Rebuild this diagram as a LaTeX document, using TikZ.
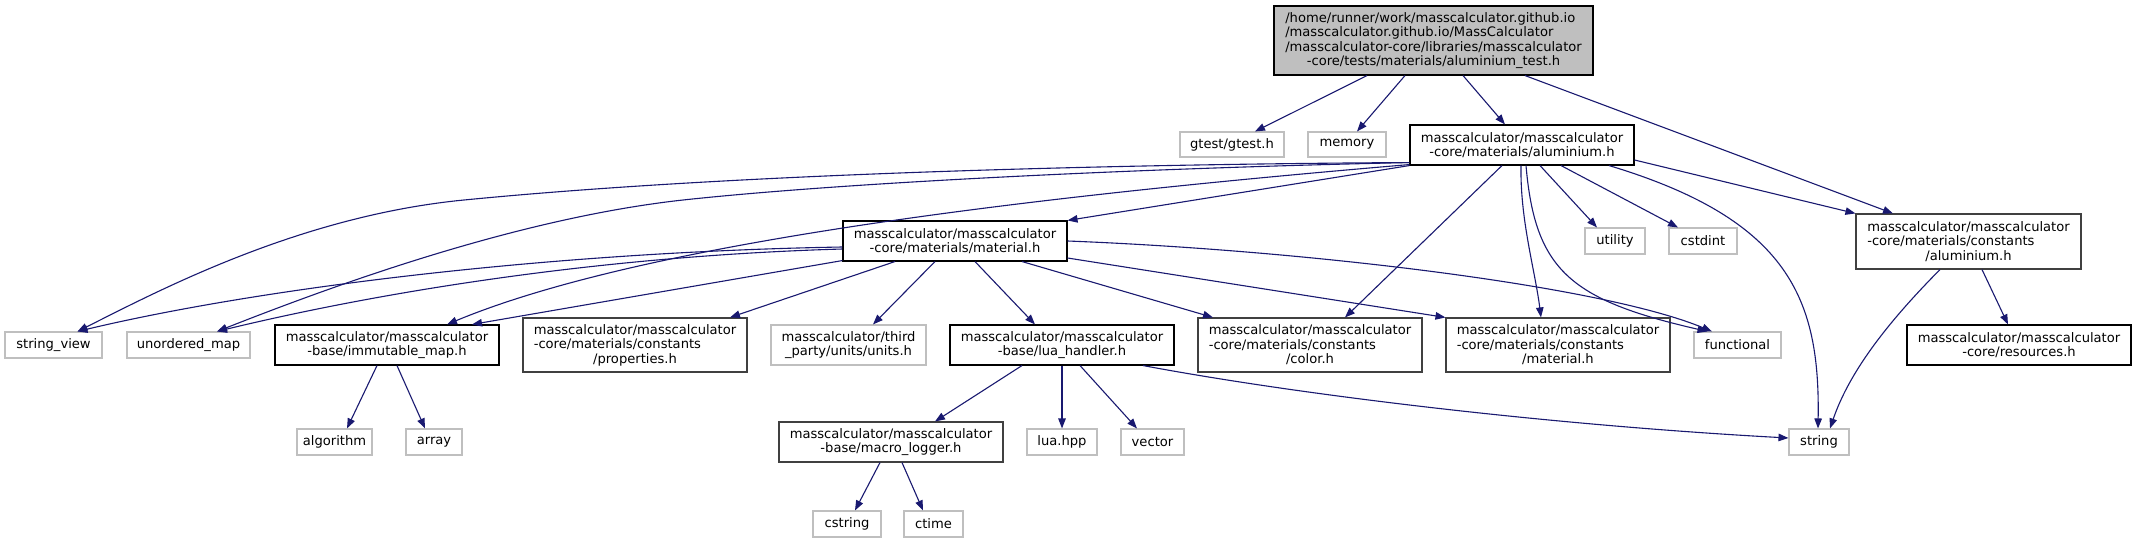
\documentclass[tikz,border=0pt]{standalone}
\usepackage{fontspec}
\setmainfont{DejaVu Sans}
\usepackage{calc}
\usetikzlibrary{arrows.meta}
\definecolor{edgec}{HTML}{191970}
\definecolor{sysc}{HTML}{BFBFBF}
\definecolor{rootf}{HTML}{BFBFBF}
\newcommand\lftw[2]{\makebox[\widthof{#1}][l]{#2}}
\newcommand\mm{masscalculator/masscalculator}
\begin{document}
\begin{tikzpicture}[x=1pt,y=-1pt,
  nb/.style={draw=black, line width=1.1pt, fill=white, inner sep=0pt, align=center, font=\fontsize{13.1}{14.5}\selectfont},
  hb/.style={nb, draw=black!75},
  sb/.style={nb, draw=sysc},
  e/.style={draw=edgec, line width=1.1pt, -{Triangle[length=10pt,width=7.5pt]}}]
\useasboundingbox (0,0) rectangle (2137,543);
\fill[white] (0,0) rectangle (2137,543);

% row 1
\node[nb, fill=rootf, minimum width=319pt, minimum height=69pt] (root) at (1433.5,40.5)
  {\lftw{/masscalculator-core/libraries/masscalculator}{/home/runner/work/masscalculator.github.io}\\
   \lftw{/masscalculator-core/libraries/masscalculator}{/masscalculator.github.io/MassCalculator}\\
   /masscalculator-core/libraries/masscalculator\\
   -core/tests/materials/aluminium\_test.h};
% row 2
\node[sb, minimum width=104pt, minimum height=25pt] (gtest) at (1232,144.5) {gtest/gtest.h};
\node[sb, minimum width=78pt, minimum height=25pt] (memory) at (1347,144.5) {memory};
\node[nb, minimum width=224pt, minimum height=40pt] (al) at (1522,145) {\mm\\-core/materials/aluminium.h};
% row 3
\node[nb, minimum width=224pt, minimum height=40pt] (mat) at (955,241) {\mm\\-core/materials/material.h};
\node[sb, minimum width=60pt, minimum height=26pt] (util) at (1615,241) {utility};
\node[sb, minimum width=68pt, minimum height=26pt] (cstdint) at (1703,241) {cstdint};
\node[hb, minimum width=225pt, minimum height=55pt] (calum) at (1968.5,241.5)
  {\mm\\\lftw{\mm}{-core/materials/constants}\\/aluminium.h};
% row 4
\node[sb, minimum width=97pt, minimum height=26pt] (sv) at (53.5,345) {string\_view};
\node[sb, minimum width=123pt, minimum height=26pt] (umap) at (188.5,345) {unordered\_map};
\node[nb, minimum width=224pt, minimum height=40pt] (imm) at (387,345) {\mm\\-base/immutable\_map.h};
\node[hb, minimum width=224pt, minimum height=54pt] (props) at (635,345)
  {\mm\\\lftw{\mm}{-core/materials/constants}\\/properties.h};
\node[sb, minimum width=155pt, minimum height=40pt] (units) at (848.5,345) {masscalculator/third\\\_party/units/units.h};
\node[nb, minimum width=224pt, minimum height=40pt] (lua) at (1062,345) {\mm\\-base/lua\_handler.h};
\node[hb, minimum width=224pt, minimum height=54pt] (color) at (1310,345)
  {\mm\\\lftw{\mm}{-core/materials/constants}\\/color.h};
\node[hb, minimum width=224pt, minimum height=54pt] (cmat) at (1558,345)
  {\mm\\\lftw{\mm}{-core/materials/constants}\\/material.h};
\node[sb, minimum width=87pt, minimum height=26pt] (func) at (1737.5,345) {functional};
\node[nb, minimum width=224pt, minimum height=40pt] (res) at (2019,345) {\mm\\-core/resources.h};
% row 5
\node[sb, minimum width=75pt, minimum height=26pt] (algo) at (334.5,442) {algorithm};
\node[sb, minimum width=56pt, minimum height=26pt] (arr) at (434,442) {array};
\node[hb, minimum width=224pt, minimum height=40pt] (macro) at (891,442) {\mm\\-base/macro\_logger.h};
\node[sb, minimum width=70pt, minimum height=26pt] (luahpp) at (1062,442) {lua.hpp};
\node[sb, minimum width=63pt, minimum height=26pt] (vec) at (1152.5,442) {vector};
\node[sb, minimum width=60pt, minimum height=26pt] (str) at (1819,442) {string};
% row 6
\node[sb, minimum width=68pt, minimum height=26pt] (cstr) at (847,524) {cstring};
\node[sb, minimum width=59pt, minimum height=26pt] (ctime) at (933.5,524) {ctime};

% edges from root
\draw[e] ([xshift=-66.5pt]root.south) -- ([xshift=23pt]gtest.north);
\draw[e] ([xshift=-28.5pt]root.south) -- ([xshift=10pt]memory.north);
\draw[e] ([xshift=29.5pt]root.south) -- ([xshift=-17pt]al.north);
\draw[e] ([xshift=91.5pt]root.south) -- ([xshift=-75.5pt]calum.north);
% edges from aluminium.h
\draw[e] (al.south west) -- (mat.north east);
\draw[e] ([yshift=3pt]al.south west) .. controls (1150,164) and (750,172) .. (464,200)
  .. controls (300,216) and (160,290) .. ([xshift=24pt]sv.north);
\draw[e] ([yshift=3pt]al.south west) .. controls (1150,168) and (850,182) .. (683,200)
  .. controls (520,218) and (340,283) .. ([xshift=28.5pt]umap.north);
\draw[e] ([yshift=1pt]al.south west) .. controls (1050,195) and (650,240) .. ([xshift=60pt]imm.north);
\draw[e] ([xshift=-20pt]al.south) -- ([xshift=35pt]color.north);
\draw[e] ([xshift=-1pt]al.south) .. controls (1520,220) and (1535,270) .. ([xshift=-17pt]cmat.north);
\draw[e] ([xshift=4pt]al.south) .. controls (1535,270) and (1570,300) .. ([xshift=-30pt]func.north);
\draw[e] ([xshift=18pt]al.south) -- ([xshift=-18pt]util.north);
\draw[e] ([xshift=39pt]al.south) -- ([xshift=-25pt]cstdint.north);
\draw[e] ([xshift=87pt]al.south) .. controls (1790,220) and (1820,300) .. ([xshift=-1pt]str.north);
\draw[e] ([yshift=-15pt]al.east) -- (calum.north west);
% edges from material.h
\draw[e] ([yshift=-6pt]mat.west) .. controls (550,252) and (260,288) .. ([xshift=24pt]sv.north);
\draw[e] ([yshift=-8pt]mat.west) .. controls (600,256) and (380,292) .. ([xshift=28.5pt]umap.north);
\draw[e] ([yshift=1pt]mat.south west) -- ([xshift=85pt]imm.north);
\draw[e] ([xshift=-60pt]mat.south) -- ([xshift=95pt]props.north);
\draw[e] ([xshift=-20pt]mat.south) -- ([xshift=24.5pt]units.north);
\draw[e] ([xshift=20pt]mat.south) -- ([xshift=-27pt]lua.north);
\draw[e] ([xshift=67pt]mat.south) -- ([xshift=-97pt]color.north);
\draw[e] ([yshift=-17pt]mat.east) -- (cmat.north west);
\draw[e] (mat.east) .. controls (1300,250) and (1600,285) .. ([xshift=-25.5pt]func.north);
% immutable_map.h
\draw[e] ([xshift=-10pt]imm.south) -- ([xshift=12.5pt]algo.north);
\draw[e] ([xshift=10pt]imm.south) -- ([xshift=-9pt]arr.north);
% lua_handler.h
\draw[e] ([xshift=-40pt]lua.south) -- ([xshift=44pt]macro.north);
\draw[e] (lua.south) -- (luahpp.north);
\draw[e] ([xshift=18pt]lua.south) -- ([xshift=-15.5pt]vec.north);
\draw[e] ([xshift=81pt]lua.south) .. controls (1300,395) and (1550,425) .. ([yshift=4pt]str.west);
% macro_logger.h
\draw[e] ([xshift=-11pt]macro.south) -- ([xshift=8pt]cstr.north);
\draw[e] ([xshift=11pt]macro.south) -- ([xshift=-10.5pt]ctime.north);
% constants/aluminium.h
\draw[e] ([xshift=-28.5pt]calum.south) .. controls (1890,320) and (1850,370) .. ([xshift=11pt]str.north);
\draw[e] ([xshift=13.5pt]calum.south) -- ([xshift=-11pt]res.north);
\end{tikzpicture}
\end{document}
